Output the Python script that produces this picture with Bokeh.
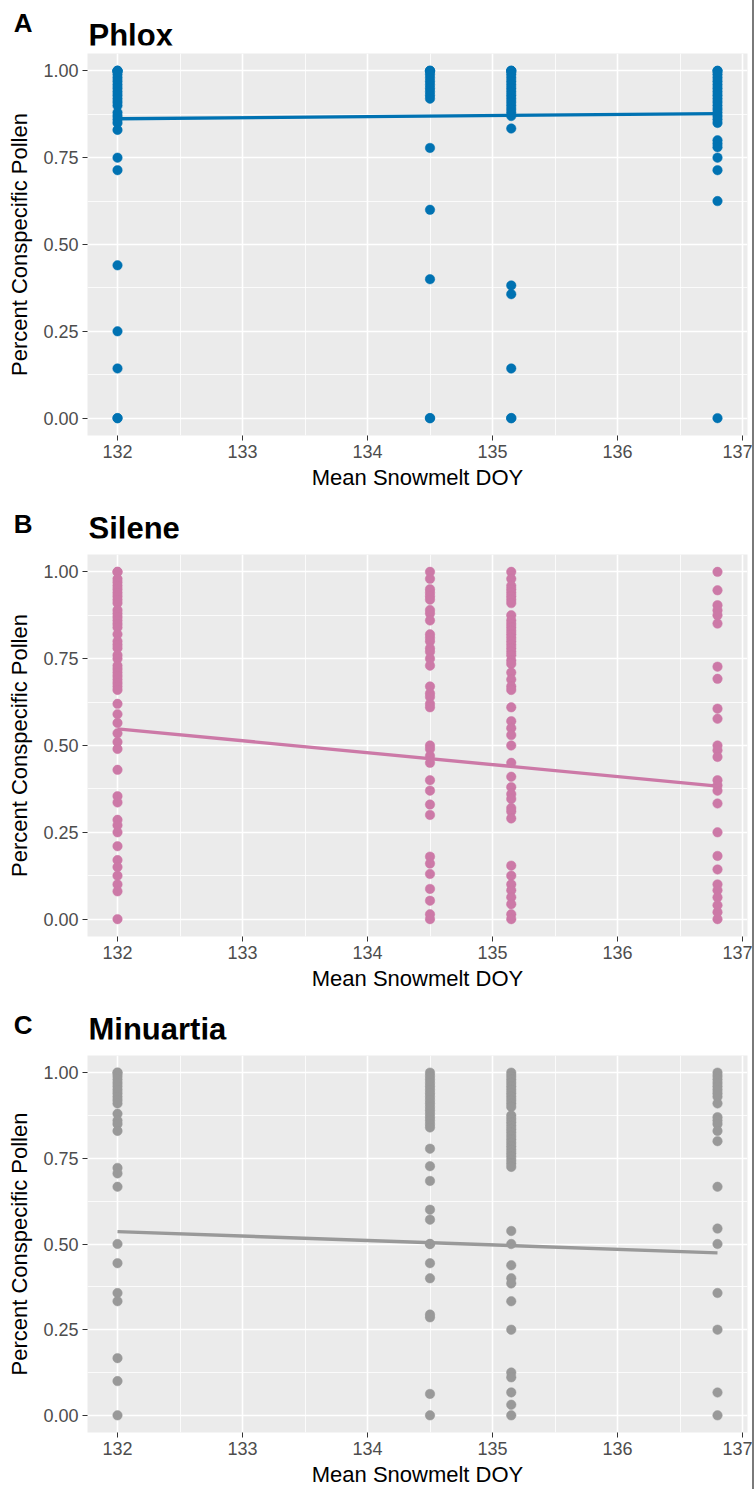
from bokeh.plotting import figure
from bokeh.layouts import column
from bokeh.models import FixedTicker, PrintfTickFormatter, ColumnDataSource
from bokeh.core.properties import value
from bokeh.embed import file_html
from bokeh.resources import INLINE

# ---------------- data ----------------
sites = [132.0, 134.5, 135.15, 136.8]
fit_x = [132.0, 136.8]

phlox_132 = [1.0, 1.0, 1.0, 1.0, 0.99, 0.98, 0.97, 0.96, 0.95, 0.94, 0.93, 0.92, 0.91, 0.90,
             0.88, 0.87, 0.86, 0.85, 0.83, 0.75, 0.714, 0.44, 0.25, 0.143, 0.0, 0.0]
phlox_1345 = [1.0, 1.0, 1.0, 0.99, 0.98, 0.97, 0.96, 0.95, 0.94, 0.93, 0.92, 0.778, 0.6, 0.4, 0.0, 0.0]
phlox_13515 = [1.0, 1.0, 1.0, 0.99, 0.98, 0.97, 0.96, 0.95, 0.94, 0.93, 0.92, 0.91, 0.90, 0.89,
               0.88, 0.87, 0.834, 0.382, 0.357, 0.143, 0.0, 0.0]
phlox_1368 = [1.0, 1.0, 0.99, 0.98, 0.97, 0.96, 0.95, 0.94, 0.93, 0.92, 0.91, 0.90, 0.89, 0.88,
              0.87, 0.86, 0.85, 0.80, 0.79, 0.78, 0.75, 0.714, 0.625, 0.0]
phlox_fit = [0.862, 0.877]

silene_132 = [1.0, 1.0, 0.98, 0.97, 0.96, 0.95, 0.94, 0.93, 0.92, 0.91, 0.89, 0.88, 0.87, 0.86,
              0.85, 0.84, 0.82, 0.80, 0.79, 0.78, 0.76, 0.75, 0.73, 0.72, 0.71, 0.70, 0.69, 0.68,
              0.67, 0.66, 0.62, 0.59, 0.565, 0.535, 0.51, 0.49, 0.43, 0.354, 0.336, 0.286, 0.27,
              0.25, 0.21, 0.17, 0.15, 0.125, 0.10, 0.08, 0.0]
silene_1345 = [1.0, 0.98, 0.95, 0.94, 0.93, 0.92, 0.89, 0.88, 0.86, 0.82, 0.81, 0.80, 0.78, 0.77,
               0.75, 0.73, 0.67, 0.65, 0.64, 0.62, 0.61, 0.5, 0.49, 0.47, 0.45, 0.4, 0.37, 0.33,
               0.3, 0.18, 0.16, 0.13, 0.087, 0.053, 0.014, 0.0]
silene_13515 = [1.0, 0.98, 0.96, 0.95, 0.94, 0.93, 0.92, 0.91, 0.875, 0.86, 0.85, 0.84, 0.83, 0.82,
                0.81, 0.80, 0.79, 0.78, 0.77, 0.76, 0.745, 0.735, 0.71, 0.69, 0.67, 0.66, 0.61,
                0.57, 0.55, 0.53, 0.5, 0.45, 0.41, 0.38, 0.36, 0.346, 0.32, 0.31, 0.29, 0.154,
                0.125, 0.1, 0.083, 0.063, 0.043, 0.014, 0.0]
silene_1368 = [1.0, 0.947, 0.904, 0.889, 0.875, 0.851, 0.727, 0.692, 0.606, 0.577, 0.5, 0.486,
               0.467, 0.4, 0.385, 0.37, 0.333, 0.25, 0.182, 0.143, 0.1, 0.083, 0.0625, 0.04,
               0.02, 0.0]
silene_fit = [0.548, 0.383]

minuartia_132 = [1.0, 1.0, 0.99, 0.98, 0.97, 0.96, 0.95, 0.94, 0.93, 0.92, 0.91, 0.88, 0.86,
                 0.85, 0.83, 0.722, 0.706, 0.667, 0.5, 0.444, 0.357, 0.333, 0.167, 0.1, 0.0]
minuartia_1345 = [1.0, 0.99, 0.98, 0.97, 0.96, 0.95, 0.94, 0.93, 0.92, 0.91, 0.90, 0.89, 0.88,
                  0.87, 0.86, 0.85, 0.84, 0.778, 0.727, 0.684, 0.6, 0.571, 0.5, 0.5, 0.444, 0.4,
                  0.294, 0.286, 0.0625, 0.0]
minuartia_13515 = [1.0, 0.99, 0.98, 0.97, 0.96, 0.95, 0.94, 0.93, 0.92, 0.91, 0.90, 0.875, 0.865,
                   0.855, 0.845, 0.835, 0.825, 0.815, 0.805, 0.795, 0.785, 0.775, 0.765, 0.755,
                   0.745, 0.735, 0.725, 0.538, 0.5, 0.438, 0.4, 0.385, 0.333, 0.25, 0.125, 0.111,
                   0.067, 0.031, 0.0]
minuartia_1368 = [1.0, 0.99, 0.98, 0.97, 0.96, 0.95, 0.94, 0.93, 0.91, 0.87, 0.86, 0.85, 0.83,
                  0.8, 0.667, 0.545, 0.5, 0.357, 0.25, 0.0667, 0.0]
minuartia_fit = [0.536, 0.474]

x_ticks = [132, 133, 134, 135, 136, 137]
x_minor = [131.5, 132.5, 133.5, 134.5, 135.5, 136.5]
y_ticks = [0.0, 0.25, 0.5, 0.75, 1.0]
y_minor = [0.125, 0.375, 0.625, 0.875]

tags = ["A", "B", "C"]
names = ["Phlox", "Silene", "Minuartia"]
colors = ["#0072B2", "#CC79A7", "#999999"]
groups_all = [
    [phlox_132, phlox_1345, phlox_13515, phlox_1368],
    [silene_132, silene_1345, silene_13515, silene_1368],
    [minuartia_132, minuartia_1345, minuartia_13515, minuartia_1368],
]
fits = [phlox_fit, silene_fit, minuartia_fit]

FONT = "Liberation Sans"
W = 752
items = []
for i in range(3):
    last = i == 2
    # ---- header strip: tag as horizontal y-axis label, title as text ----
    hh = 53 if i == 0 else 45
    fh = 45 if i == 0 else 29
    h = figure(width=W, height=hh, x_range=(0, 660), y_range=(fh, 0),
               output_backend="svg", toolbar_location=None,
               min_border_left=87, min_border_right=5, min_border_top=0,
               min_border_bottom=hh - fh)
    h.xaxis.visible = False
    h.grid.visible = False
    h.outline_line_color = None
    h.yaxis.ticker = FixedTicker(ticks=[])
    h.yaxis.axis_line_color = None
    h.yaxis.major_tick_line_color = None
    h.yaxis.minor_tick_line_color = None
    h.yaxis.major_tick_out = 0
    h.yaxis.axis_label = tags[i]
    h.yaxis.axis_label_orientation = "horizontal"
    h.yaxis.axis_label_text_font = FONT
    h.yaxis.axis_label_text_font_size = "26px"
    h.yaxis.axis_label_text_font_style = "bold"
    h.yaxis.axis_label_text_color = "black"
    h.yaxis.axis_label_standoff = 55
    h.text(x=[1], y=[fh - 10], text=[names[i]], text_font=value(FONT),
           text_font_size="31px", text_font_style="bold", text_color="black",
           text_baseline="alphabetic", text_align="left")
    items.append(h)

    # ---- main panel ----
    p = figure(width=W, height=382 + (52 if last else 74),
               x_range=(131.76, 137.04), y_range=(-0.05, 1.05),
               output_backend="svg", toolbar_location=None,
               min_border_left=87, min_border_right=5, min_border_top=0,
               min_border_bottom=52 if last else 74)
    p.background_fill_color = "#EBEBEB"
    p.border_fill_color = "white"
    p.outline_line_color = None

    xs, ys = [], []
    for s, vals in zip(sites, groups_all[i]):
        xs += [s] * len(vals)
        ys += vals
    src = ColumnDataSource(dict(x=xs, y=ys))
    p.scatter("x", "y", source=src, size=9.5, fill_color=colors[i], line_color=colors[i], line_width=0.5)
    p.line(fit_x, fits[i], line_color=colors[i], line_width=3.4)

    p.xaxis.ticker = FixedTicker(ticks=x_ticks, minor_ticks=x_minor)
    p.yaxis.ticker = FixedTicker(ticks=y_ticks, minor_ticks=y_minor)
    p.yaxis.formatter = PrintfTickFormatter(format="%.2f")

    for g in (p.xgrid, p.ygrid):
        g.grid_line_color = "white"
        g.grid_line_width = 1.6
        g.minor_grid_line_color = "white"
        g.minor_grid_line_width = 0.8

    for ax in (p.xaxis, p.yaxis):
        ax.axis_line_color = None
        ax.minor_tick_line_color = None
        ax.major_tick_line_color = "#333333"
        ax.major_tick_out = 5
        ax.major_tick_in = 0
        ax.major_label_text_font = FONT
        ax.major_label_text_font_size = "18px"
        ax.major_label_text_color = "#4D4D4D"
        ax.axis_label_text_font = FONT
        ax.axis_label_text_font_size = "22px"
        ax.axis_label_text_font_style = "normal"
        ax.axis_label_text_color = "black"
        ax.major_label_standoff = 4
    p.xaxis.axis_label = "Mean Snowmelt DOY"
    p.yaxis.axis_label = "Percent Conspecific Pollen"
    p.xaxis.axis_label_standoff = 4
    p.yaxis.axis_label_standoff = 8
    items.append(p)

layout = column(*items, spacing=0, styles={"border-right": "2px solid #7a7a7a"})
open("out.html", "w").write(file_html(layout, INLINE))
